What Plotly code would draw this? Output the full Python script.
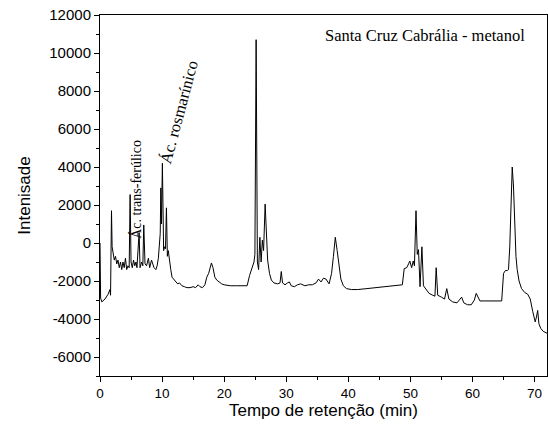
import plotly.graph_objects as go

# Chromatogram: retention time (min) vs. intensity
tempo = [
    0.0, 0.1, 0.3, 0.8, 1.3, 1.6, 1.7, 1.75, 1.85, 1.95, 2.1, 2.3, 2.5, 2.7, 2.9,
    3.1, 3.3, 3.5, 3.7, 3.9, 4.1, 4.3, 4.5, 4.7, 4.85, 5.0, 5.2, 5.4, 5.6, 5.8,
    5.95, 6.3, 6.45, 6.7, 6.9, 7.05, 7.25, 7.5, 7.8, 8.0, 8.3, 8.5, 8.7, 9.0, 9.2,
    9.4, 9.55, 9.7, 9.8, 9.9, 10.05, 10.25, 10.4, 10.55, 10.7, 10.85, 11.0, 11.2,
    11.4, 11.6, 11.9, 12.2, 12.5, 12.8, 13.2, 13.6, 14.0, 14.5, 15.0, 15.4, 15.8,
    16.1, 16.5, 16.9, 17.2, 17.5, 17.7, 17.95, 18.2, 18.5, 18.8, 19.2, 19.6, 20.0,
    21.0, 22.0, 23.0, 23.7, 24.1, 24.5, 24.8, 24.95, 25.15, 25.35, 25.55, 25.75,
    25.95, 26.15, 26.35, 26.6, 26.85, 27.0, 27.3, 27.6, 28.0, 28.6, 29.0, 29.2,
    29.4, 29.8, 30.2, 30.5, 30.8, 31.3, 31.8, 32.3, 33.0, 33.6, 34.2, 34.8, 35.2,
    35.6, 36.0, 36.4, 36.9, 37.3, 37.6, 37.9, 38.2, 38.5, 38.8, 39.2, 39.7, 40.5,
    41.5, 43.0, 44.5, 46.0, 47.5, 48.7, 49.0, 49.4, 49.7, 49.9, 50.2, 50.45,
    50.65, 50.9, 51.1, 51.3, 51.55, 51.85, 52.1, 52.5, 53.0, 53.6, 53.95, 54.15,
    54.4, 55.0, 55.5, 55.85, 56.2, 56.8, 57.5, 58.0, 58.25, 58.6, 59.2, 59.8,
    60.3, 60.6, 60.9, 61.2, 62.0, 63.0, 64.0, 64.7, 65.0, 65.3, 65.6, 65.8, 66.0,
    66.2, 66.4, 66.6, 66.8, 67.0, 67.2, 67.5, 67.9, 68.4, 68.9, 69.3, 69.7, 70.1,
    70.3, 70.5, 70.7, 71.0, 71.4, 72.0,
]
intensidade = [
    0, -2900, -3100, -2950, -2700, -2450, -2750, -1000, 1700, -200, -500, -900,
    -700, -1100, -900, -1300, -1000, -1400, -1000, -1300, -800, -1400, -1200,
    -1300, 2550, -1000, -1300, -900, -1200, -1000, -1300, 550, -1300, -1000,
    -1200, 950, -1100, -1200, -800, -1300, -900, -1100, -1300, -1400, -1200,
    -800, 0, 500, 2900, 1000, 4200, -400, -200, -300, 1850, -700, -400, -1100,
    -1400, -1800, -1900, -2000, -2150, -2100, -2250, -2300, -2350, -2350, -2300,
    -2350, -2200, -2300, -2350, -2200, -1800, -1600, -1300, -1050, -1300, -1800,
    -1950, -2050, -2150, -2200, -2250, -2250, -2250, -2250, -1700, -1300, -1000,
    -600, 10700, -1000, -1400, 300, -1000, 150, -400, 2050, 0, -900, -1600,
    -1950, -2100, -2150, -2100, -1500, -2100, -2200, -2100, -2050, -2250, -2300,
    -2200, -2150, -2250, -2200, -2200, -2100, -1900, -2050, -1850, -1900, -2150,
    -1600, -700, 300, -400, -1300, -1900, -2250, -2400, -2450, -2450, -2400,
    -2350, -2300, -2250, -2200, -1350, -1300, -1100, -950, -1300, -950, -1200,
    1700, -600, -350, -2300, -200, -2250, -2450, -2650, -2750, -2800, -1300,
    -2750, -2850, -2950, -2400, -2950, -3100, -3150, -2950, -2850, -3150, -3250,
    -3250, -3000, -2650, -2900, -3050, -3050, -3050, -3050, -3050, -1600, -1450,
    -1450, -1400, -200, 2500, 4000, 3000, 800, -700, -1400, -2000, -2400, -2600,
    -2700, -2950, -3600, -4150, -3900, -3550, -4250, -4500, -4650, -4750,
]

x_ticks = [0, 10, 20, 30, 40, 50, 60, 70]
y_ticks = [-6000, -4000, -2000, 0, 2000, 4000, 6000, 8000, 10000, 12000]
y_labels = [str(v) for v in y_ticks]

picos = [
    ("Ác. trans-ferúlico", 5.8, 2800, -90, 14),
    ("Ác. rosmarínico", 12.8, 6900, -75, 16.5),
]

fig = go.Figure()
fig.add_trace(go.Scatter(
    x=tempo, y=intensidade, mode="lines",
    line=dict(color="black", width=1), showlegend=False,
))

for texto, tx, ty, ang, tam in picos:
    fig.add_annotation(
        x=tx, y=ty, xref="x", yref="y", text=texto, textangle=ang,
        showarrow=False, xanchor="center", yanchor="middle",
        font=dict(family="Liberation Serif", size=tam, color="black"),
    )

fig.add_annotation(
    x=52.3, y=10900, xref="x", yref="y", text="Santa Cruz Cabrália - metanol",
    showarrow=False, xanchor="center", yanchor="middle",
    font=dict(family="Liberation Serif", size=16.5, color="black"),
)

eixo = dict(
    showline=True, linecolor="black", linewidth=1, mirror=True,
    ticks="outside", ticklen=5, tickwidth=1, tickcolor="black",
    showgrid=False, zeroline=False,
)

fig.update_xaxes(
    **eixo, range=[0, 72], tickvals=x_ticks,
    tickfont=dict(family="Liberation Sans", size=13.5, color="black"),
    minor=dict(dtick=5, tick0=0, ticks="outside", ticklen=3, tickcolor="black"),
    title=dict(text="Tempo de retenção (min)", standoff=3,
               font=dict(family="Liberation Sans", size=17, color="black")),
)
fig.update_yaxes(
    **eixo, range=[-7000, 12000], tickvals=y_ticks, ticktext=y_labels,
    tickfont=dict(family="Liberation Sans", size=15, color="black"),
    minor=dict(dtick=1000, tick0=0, ticks="outside", ticklen=3, tickcolor="black"),
    title=dict(text="Intenisade", standoff=14,
               font=dict(family="Liberation Sans", size=17, color="black")),
)

fig.update_layout(
    width=548, height=435,
    margin=dict(l=100, r=1, t=15, b=59, autoexpand=False),
    plot_bgcolor="white", paper_bgcolor="white",
)

fig.write_html("out.html")
